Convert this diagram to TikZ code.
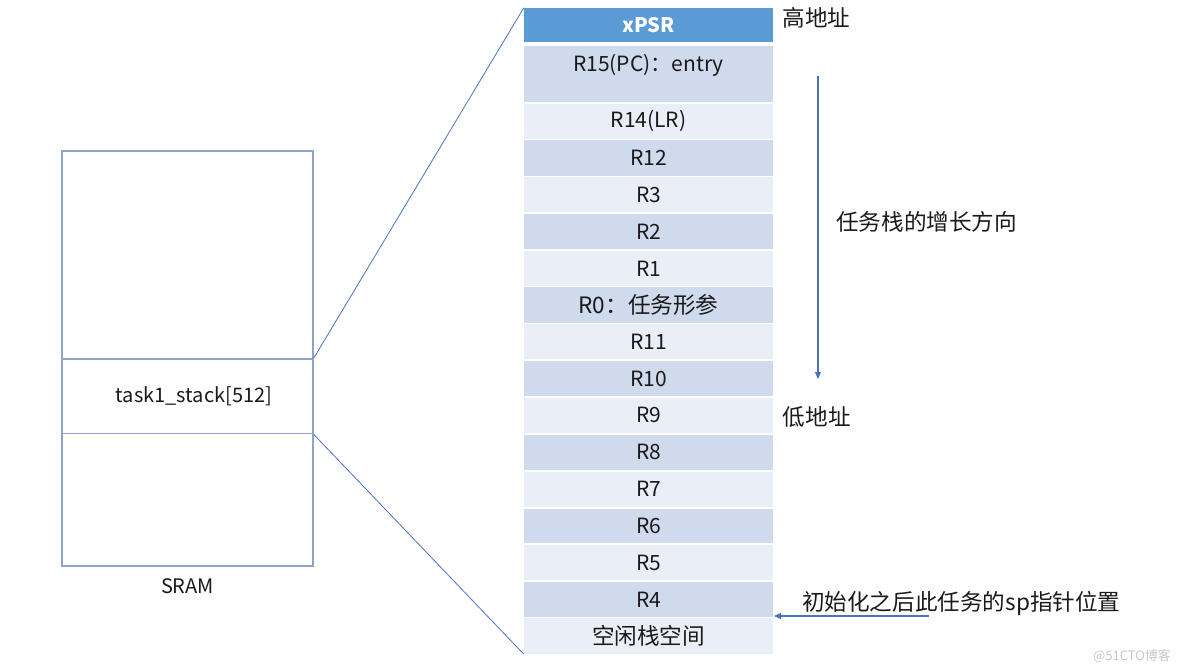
\documentclass[tikz,border=0pt]{standalone}
\usepackage{fontspec}
\setmainfont{Noto Sans CJK SC}
\usetikzlibrary{arrows.meta}
\definecolor{head}{HTML}{5B9BD5}
\definecolor{cdark}{HTML}{CFDAEC}
\definecolor{clight}{HTML}{E9EEF7}
\definecolor{boxline}{HTML}{8FA2C8}
\definecolor{connline}{HTML}{4A72C0}
\definecolor{txt}{HTML}{1A1A1A}
\definecolor{wm}{HTML}{C8C8C8}
\tikzset{
  cell/.style={inner sep=0pt, minimum width=249pt, text=txt, font=\fontsize{21}{23}\selectfont},
  cjkcell/.style={cell, font=\fontsize{22.6}{25}\selectfont},
  memline/.style={draw=boxline, line width=1.2pt, inner sep=0pt},
  conn/.style={draw=connline, line width=0.8pt},
  arr/.style={draw=connline, line width=1.1pt, -{Triangle[length=7pt,width=6pt]}},
  lbl/.style={inner sep=0pt, text=txt, font=\fontsize{22.6}{25}\selectfont},
}
\begin{document}
\begin{tikzpicture}[x=1pt,y=-1pt]
\useasboundingbox (0,0) rectangle (1184,672);
% SRAM block
\node[memline, minimum width=251pt, minimum height=415pt] (sram) at (187.5,358.5) {};
\node[memline, minimum width=251pt, minimum height=74.7pt, text=txt, font=\fontsize{20}{22}\selectfont] (task) at (187.5,396.3) {\hspace*{13pt}task1\_stack[512]};
\node[lbl, font=\fontsize{20}{22}\selectfont] (sramlbl) at (187.5,586) {SRAM};
% stack rows
\node[cell, fill=head, minimum height=34.3pt, text=white, font=\fontsize{20}{22}\selectfont\bfseries] (xpsr) at (648.5,25.15) {xPSR};
\node[cell, fill=cdark, minimum height=56.6pt, align=center] (r15) at (648.5,74) {R15(PC)：entry\\\mbox{}};
\node[cell, fill=clight, minimum height=35.3pt] (r14) at (648.5,121.35) {R14(LR)};
\node[cell, fill=cdark, minimum height=35.4pt] (r12) at (648.5,158) {R12};
\node[cell, fill=clight, minimum height=35.3pt] (r3) at (648.5,194.65) {R3};
\node[cell, fill=cdark, minimum height=35.6pt] (r2) at (648.5,231.5) {R2};
\node[cell, fill=clight, minimum height=35.3pt] (r1) at (648.5,268.35) {R1};
\node[cjkcell, fill=cdark, minimum height=35.4pt] (r0) at (648.5,305) {R0：任务形参};
\node[cell, fill=clight, minimum height=35.3pt] (r11) at (648.5,341.65) {R11};
\node[cell, fill=cdark, minimum height=34.4pt] (r10) at (648.5,378.5) {R10};
\node[cell, fill=clight, minimum height=35pt] (r9) at (648.5,415.2) {R9};
\node[cell, fill=cdark, minimum height=35pt] (r8) at (648.5,452.2) {R8};
\node[cell, fill=clight, minimum height=35pt] (r7) at (648.5,489.2) {R7};
\node[cell, fill=cdark, minimum height=34.6pt] (r6) at (648.5,526) {R6};
\node[cell, fill=clight, minimum height=35pt] (r5) at (648.5,562.5) {R5};
\node[cell, fill=cdark, minimum height=34.7pt] (r4) at (648.5,599.35) {R4};
\node[cjkcell, fill=clight, minimum height=36pt] (free) at (648.5,636) {空闲栈空间};
% zoom connectors
\draw[conn] (task.north east) -- (xpsr.north west);
\draw[conn] (task.south east) -- (free.south west);
% address labels
\node[lbl] (high) at (816.5,18) {高地址};
\node[lbl] (low) at (816.7,417) {低地址};
% growth direction
\coordinate (g1) at (818,76);
\coordinate (g2) at (818,379);
\draw[arr] (g1) -- (g2);
\node[lbl] (grow) at (926.7,222) {任务栈的增长方向};
% sp pointer
\coordinate (sp0) at (929,616);
\coordinate (sp1) at (774,616);
\draw[arr] (sp0) -- (sp1);
\node[lbl] (sptxt) at (961.3,604) {初始化之后此任务的sp指针位置};
% watermark
\node[inner sep=0pt, text=wm, font=\fontsize{13}{14}\selectfont] (wmark) at (1132,656) {@51CTO博客};
\end{tikzpicture}
\end{document}
